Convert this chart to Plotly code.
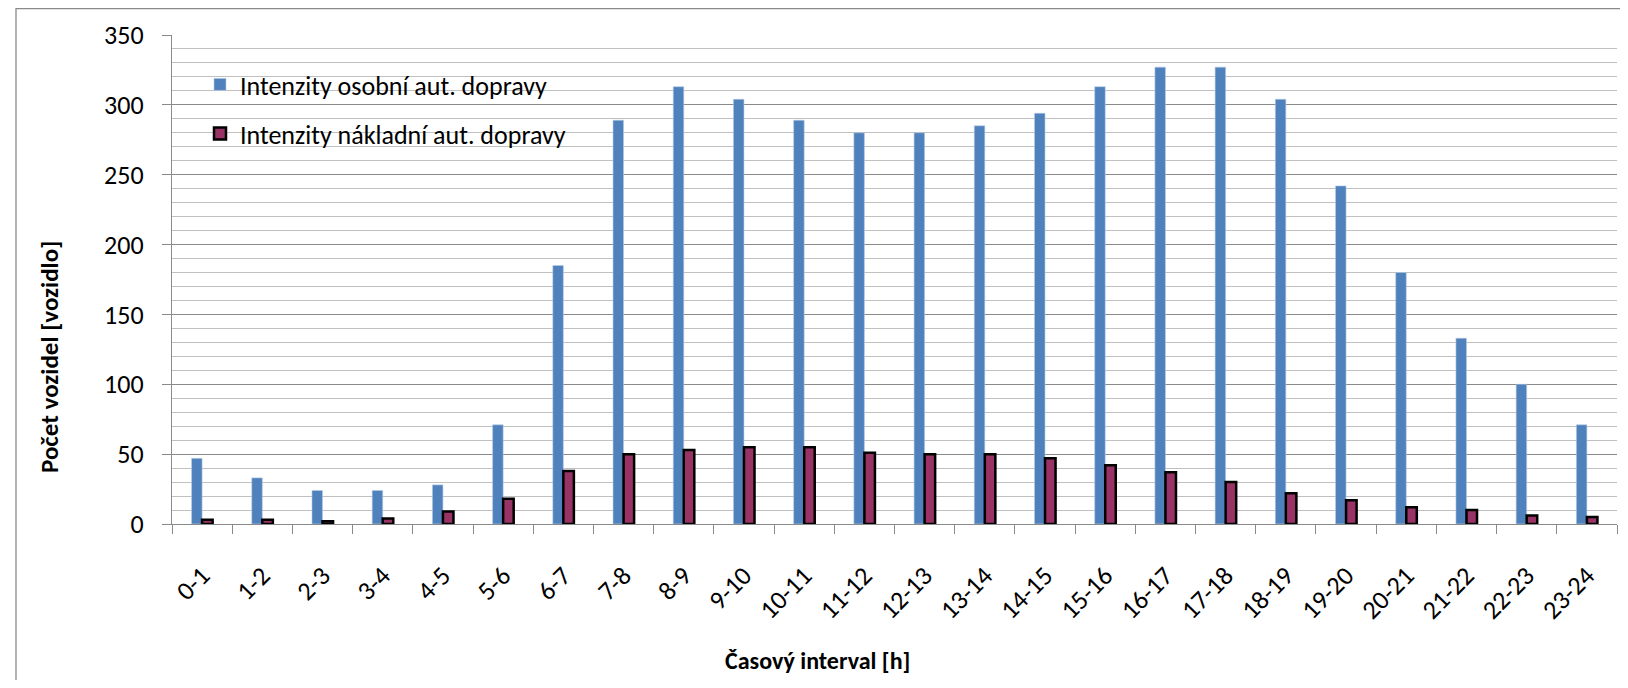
import plotly.graph_objects as go

categories = ["0-1", "1-2", "2-3", "3-4", "4-5", "5-6", "6-7", "7-8", "8-9", "9-10",
              "10-11", "11-12", "12-13", "13-14", "14-15", "15-16", "16-17", "17-18",
              "18-19", "19-20", "20-21", "21-22", "22-23", "23-24"]
osobni = [47, 33, 24, 24, 28, 71, 185, 289, 313, 304, 289, 280, 280, 285, 294, 313,
          327, 327, 304, 242, 180, 133, 100, 71]
nakladni = [3, 3, 2, 4, 9, 18, 38, 50, 53, 55, 55, 51, 50, 50, 47, 42, 37, 30, 22, 17,
            12, 10, 6, 5]

name_osobni = "Intenzity osobní aut. dopravy"
name_nakladni = "Intenzity nákladní aut. dopravy"
x_title = "Časový interval [h]"
y_title = "Počet vozidel [vozidlo]"

FONT = "Carlito, Lato, sans-serif"
GRID_MAJOR = "#8a8a8a"
GRID_MINOR = "#c0c0c0"
FS = 26

# page body has an 8px margin; figure is sized so the page is exactly the window
OFF = 8
W, H = 1628 - 2 * OFF, 688 - 2 * OFF
# plot area in window pixels
PL, PR, PT, PB = 172, 1617, 35, 524
L, T = PL - OFF, PT - OFF
R = (OFF + W) - PR
B = (OFF + H) - PB


def px_x(px):
    return (px - PL) / (PR - PL)


def px_y(py):
    return (PB - py) / (PB - PT)


fig = go.Figure()
fig.add_trace(go.Bar(x=categories, y=osobni, name=name_osobni, showlegend=True,
                     marker=dict(color="#4f81bd", line=dict(color="#b8cce4", width=0.6)),
                     legend="legend"))
fig.add_trace(go.Bar(x=categories, y=nakladni, name=name_nakladni, showlegend=True,
                     marker=dict(color="#993366", line=dict(color="#000000", width=2.5)),
                     legend="legend2"))

fig.update_layout(
    width=W, height=H,
    margin=dict(l=L, r=R, t=T, b=B, autoexpand=False),
    paper_bgcolor="white", plot_bgcolor="white",
    font=dict(family=FONT, size=FS, color="#000000"),
    showlegend=True,
    barmode="group", bargap=0.65, bargroupgap=0.0,
    legend=dict(x=px_x(200), y=px_y(61), xanchor="left", yanchor="top",
                bgcolor="rgba(0,0,0,0)", font=dict(family=FONT, size=FS)),
    legend2=dict(x=px_x(200), y=px_y(110), xanchor="left", yanchor="top",
                 bgcolor="rgba(0,0,0,0)", font=dict(family=FONT, size=FS)),
    xaxis=dict(
        type="category", categoryorder="array", categoryarray=categories,
        showline=True, linecolor=GRID_MAJOR, linewidth=1.3,
        ticks="outside", tickson="boundaries", ticklen=9, tickcolor=GRID_MAJOR, tickwidth=1.3,
        tickangle=-45, showgrid=False, zeroline=False,
        tickfont=dict(family=FONT, size=FS),
        ticklabelstandoff=25,
    ),
    yaxis=dict(
        range=[0, 350], dtick=50, tick0=0,
        showline=True, linecolor=GRID_MAJOR, linewidth=1.3,
        ticks="outside", ticklen=9, tickcolor=GRID_MAJOR, tickwidth=1.3,
        showgrid=True, gridcolor=GRID_MAJOR, gridwidth=1.3, zeroline=False,
        minor=dict(dtick=10, showgrid=True, gridcolor=GRID_MINOR, gridwidth=1.3, ticks=""),
        tickfont=dict(family=FONT, size=FS),
        ticklabelstandoff=13,
    ),
    annotations=[
        dict(text="<b>%s</b>" % x_title, xref="paper", yref="paper",
             x=px_x(817), y=px_y(661), xanchor="center", yanchor="middle",
             showarrow=False, font=dict(family=FONT, size=24)),
        dict(text="<b>%s</b>" % y_title, xref="paper", yref="paper", textangle=-90,
             x=px_x(49), y=px_y(357), xanchor="center", yanchor="middle",
             showarrow=False, font=dict(family=FONT, size=25)),
    ],
    shapes=[
        dict(type="rect", xref="paper", yref="paper",
             x0=px_x(16), y0=px_y(720), x1=px_x(1660), y1=px_y(8.5),
             line=dict(color=GRID_MAJOR, width=1.3), fillcolor="rgba(0,0,0,0)", layer="below"),
    ],
)

fig.write_html("out.html")
